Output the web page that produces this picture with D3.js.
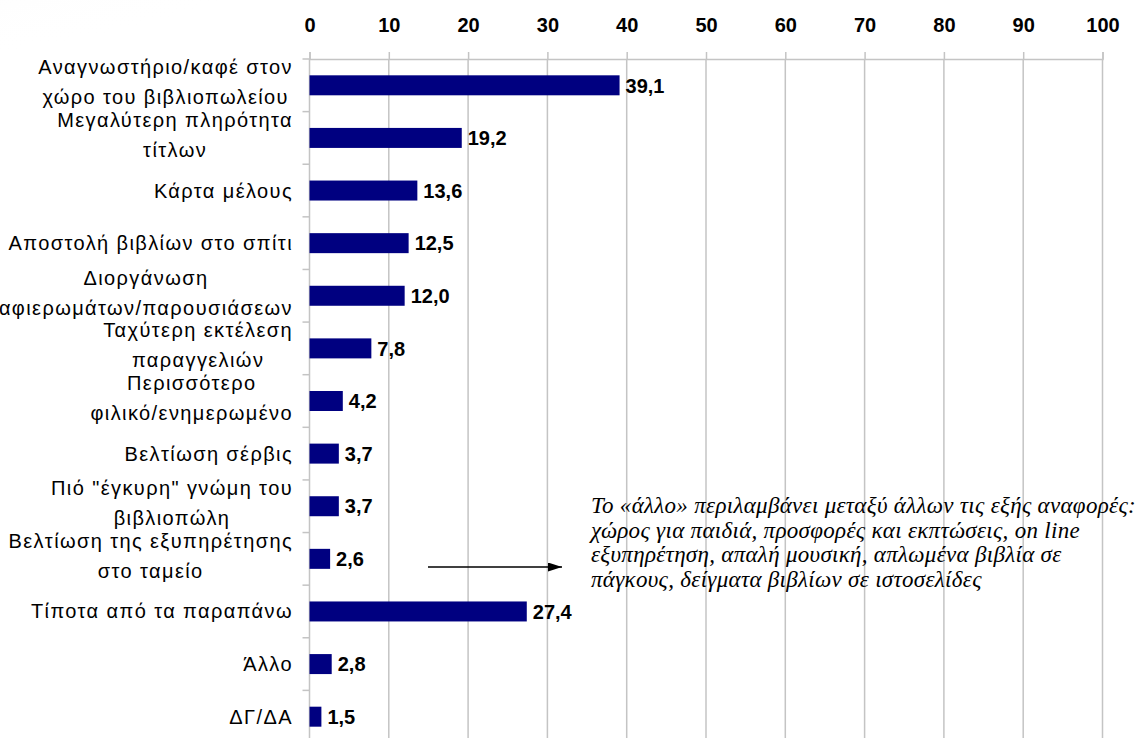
<!DOCTYPE html>
<html>
<head>
<meta charset="utf-8">
<script src="https://cdn.jsdelivr.net/npm/d3@7"></script>
<style>
  html, body { margin: 0; padding: 0; background: #ffffff; }
  svg { display: block; }
</style>
</head>
<body>
<svg id="chart" width="1147" height="738"></svg>
<script>
// Survey answers: what would improve the bookshop (percent of respondents)
const categories = [
  "Αναγνωστήριο/καφέ στον χώρο του βιβλιοπωλείου",
  "Μεγαλύτερη πληρότητα τίτλων",
  "Κάρτα μέλους",
  "Αποστολή βιβλίων στο σπίτι",
  "Διοργάνωση αφιερωμάτων/παρουσιάσεων",
  "Ταχύτερη εκτέλεση παραγγελιών",
  "Περισσότερο φιλικό/ενημερωμένο",
  "Βελτίωση σέρβις",
  "Πιό \"έγκυρη\" γνώμη του βιβλιοπώλη",
  "Βελτίωση της εξυπηρέτησης στο ταμείο",
  "Τίποτα από τα παραπάνω",
  "Άλλο",
  "ΔΓ/ΔΑ"
];
// Line breaks of each category label
const labelLines = [
  ["Αναγνωστήριο/καφέ στον", "χώρο του βιβλιοπωλείου"],
  ["Μεγαλύτερη πληρότητα", "τίτλων"],
  ["Κάρτα μέλους"],
  ["Αποστολή βιβλίων στο σπίτι"],
  ["Διοργάνωση", "αφιερωμάτων/παρουσιάσεων"],
  ["Ταχύτερη εκτέλεση", "παραγγελιών"],
  ["Περισσότερο", "φιλικό/ενημερωμένο"],
  ["Βελτίωση σέρβις"],
  ["Πιό \"έγκυρη\" γνώμη του", "βιβλιοπώλη"],
  ["Βελτίωση της εξυπηρέτησης", "στο ταμείο"],
  ["Τίποτα από τα παραπάνω"],
  ["Άλλο"],
  ["ΔΓ/ΔΑ"]
];
const values = [39.1, 19.2, 13.6, 12.5, 12.0, 7.8, 4.2, 3.7, 3.7, 2.6, 27.4, 2.8, 1.5];
const xTicks = [0, 10, 20, 30, 40, 50, 60, 70, 80, 90, 100];
const noteLines = [
  "Το «άλλο» περιλαμβάνει μεταξύ άλλων τις εξής αναφορές:",
  "χώρος για παιδιά, προσφορές και εκπτώσεις, on line",
  "εξυπηρέτηση, απαλή μουσική, απλωμένα βιβλία σε",
  "πάγκους, δείγματα βιβλίων σε ιστοσελίδες"
];

const svg = d3.select("#chart");
const plot = { left: 309.5, right: 1102.5, top: 59, bottom: 743 };
const gridColor = "#c4c4c4";
const sans = "'Liberation Sans', Arial, sans-serif";

const x = d3.scaleLinear().domain([0, 100]).range([plot.left, plot.right]);
const y = d3.scaleBand().domain(categories)
  .range([plot.top, plot.bottom])
  .paddingInner(0.62).paddingOuter(0.31);

// faint shading in the upper-left corner
const defs = svg.append("defs");
const grad = defs.append("radialGradient").attr("id", "corner")
  .attr("cx", "0").attr("cy", "0").attr("r", "1");
grad.append("stop").attr("offset", "0").attr("stop-color", "#f0f0f0");
grad.append("stop").attr("offset", "1").attr("stop-color", "#ffffff").attr("stop-opacity", 0);
svg.append("ellipse").attr("cx", 0).attr("cy", 0).attr("rx", 330).attr("ry", 75)
  .attr("fill", "url(#corner)");

// vertical gridlines
svg.append("g")
  .selectAll("line")
  .data(xTicks.slice(1))
  .join("line")
  .attr("x1", d => x(d)).attr("x2", d => x(d))
  .attr("y1", plot.top).attr("y2", 738)
  .attr("stroke", gridColor).attr("stroke-width", 1.5);

// top value axis
const xAxis = svg.append("g")
  .attr("transform", `translate(0,${plot.top})`)
  .call(d3.axisTop(x).tickValues(xTicks).tickSize(7).tickPadding(20).tickFormat(d3.format("d")));
xAxis.select(".domain").attr("stroke", gridColor).attr("stroke-width", 1.5);
xAxis.selectAll(".tick line").attr("stroke", gridColor).attr("stroke-width", 1.5);
xAxis.selectAll(".tick text")
  .attr("fill", "#000").attr("font-family", sans)
  .attr("font-size", 20).attr("font-weight", "bold");

// left category axis (ticks at band boundaries)
const boundaries = categories.map((c, i) => plot.top + i * y.step()).concat([plot.bottom]);
const yAxisG = svg.append("g");
yAxisG.append("line")
  .attr("x1", plot.left).attr("x2", plot.left)
  .attr("y1", plot.top).attr("y2", 738)
  .attr("stroke", gridColor).attr("stroke-width", 1.5);
yAxisG.selectAll("line.tick")
  .data(boundaries)
  .join("line").attr("class", "tick")
  .attr("x1", plot.left - 7).attr("x2", plot.left)
  .attr("y1", d => d).attr("y2", d => d)
  .attr("stroke", gridColor).attr("stroke-width", 1.5);

// bars
svg.append("g")
  .selectAll("rect")
  .data(values)
  .join("rect")
  .attr("x", x(0))
  .attr("y", (d, i) => y(categories[i]))
  .attr("width", d => x(d) - x(0))
  .attr("height", y.bandwidth())
  .attr("fill", "#000080");

// value labels
const fmt = d => d3.format(".1f")(d).replace(".", ",");
svg.append("g")
  .selectAll("text")
  .data(values)
  .join("text")
  .attr("x", d => x(d) + 6)
  .attr("y", (d, i) => y(categories[i]) + y.bandwidth() / 2)
  .attr("dy", "0.36em")
  .attr("font-family", sans).attr("font-size", 20).attr("font-weight", "bold")
  .attr("fill", "#000")
  .text(fmt);

// category labels: lines centred on each other, block right-aligned to the axis
const labelRight = 293;
const catG = svg.append("g");
labelLines.forEach((lines, i) => {
  const cy = y(categories[i]) + y.bandwidth() / 2;
  const g = catG.append("g");
  const texts = lines.map((ln, j) => g.append("text")
    .attr("font-family", sans).attr("font-size", 20)
    .attr("letter-spacing", 1.4)
    .attr("fill", "#000")
    .attr("text-anchor", "middle")
    .attr("dy", "0.35em")
    .attr("y", lines.length === 1 ? cy : cy - 18 + j * 30)
    .text(ln));
  const maxW = d3.max(texts, t => t.node().getComputedTextLength());
  texts.forEach(t => t.attr("x", labelRight - maxW / 2));
});

// note about the "other" answers, with arrow
defs.append("marker").attr("id", "arrowHead")
  .attr("viewBox", "0 0 10 10").attr("refX", 10).attr("refY", 5)
  .attr("markerWidth", 14).attr("markerHeight", 9)
  .attr("markerUnits", "userSpaceOnUse")
  .attr("orient", "auto")
  .attr("preserveAspectRatio", "none")
  .append("path").attr("d", "M0,0 L10,5 L0,10 Z").attr("fill", "#000");
svg.append("line")
  .attr("x1", 428).attr("y1", 567).attr("x2", 562).attr("y2", 567)
  .attr("stroke", "#000").attr("stroke-width", 1.5)
  .attr("marker-end", "url(#arrowHead)");

svg.append("g")
  .selectAll("text")
  .data(noteLines)
  .join("text")
  .attr("x", 591)
  .attr("y", (d, i) => 513 + i * 24.5)
  .attr("font-family", "'Liberation Serif', 'Times New Roman', serif")
  .attr("font-style", "italic")
  .attr("font-size", 23)
  .attr("letter-spacing", 0.3)
  .attr("fill", "#000")
  .text(d => d);
</script>
</body>
</html>
